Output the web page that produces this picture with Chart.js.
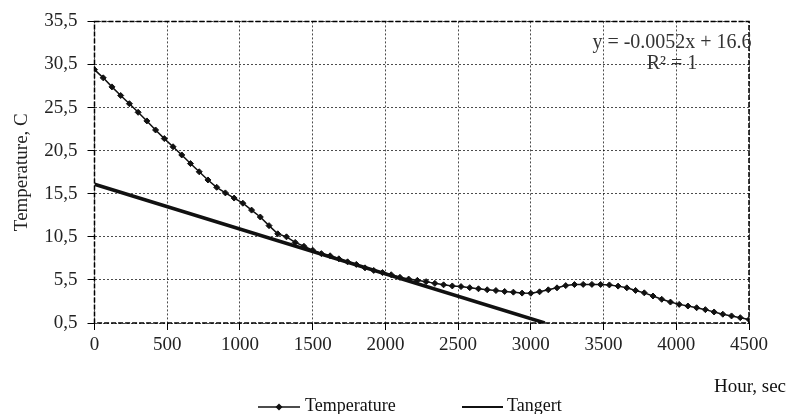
<!DOCTYPE html>
<html>
<head>
<meta charset="utf-8">
<script src="https://cdn.jsdelivr.net/npm/chart.js@4.4.1/dist/chart.umd.min.js"></script>
<style>
  html, body { margin: 0; padding: 0; background: #fff; }
</style>
</head>
<body>
<canvas id="myChart" width="787" height="414"></canvas>
<script>
var timeSec = [
  0, 60, 120, 180, 240, 300, 360, 420, 480, 540,
  600, 660, 720, 780, 840, 900, 960, 1020, 1080, 1140,
  1200, 1260, 1320, 1380, 1440, 1500, 1560, 1620, 1680, 1740,
  1800, 1860, 1920, 1980, 2040, 2100, 2160, 2220, 2280, 2340,
  2400, 2460, 2520, 2580, 2640, 2700, 2760, 2820, 2880, 2940,
  3000, 3060, 3120, 3180, 3240, 3300, 3360, 3420, 3480, 3540,
  3600, 3660, 3720, 3780, 3840, 3900, 3960, 4020, 4080, 4140,
  4200, 4260, 4320, 4380, 4440, 4500,
];

var temperature = [
  29.9, 28.95, 27.9, 26.9, 25.95, 24.95, 23.95, 22.9, 21.9, 20.95,
  20.0, 19.0, 18.05, 17.1, 16.25, 15.6, 15.0, 14.4, 13.6, 12.8,
  11.8, 10.85, 10.5, 9.85, 9.4, 8.95, 8.55, 8.3, 7.95, 7.6,
  7.3, 6.9, 6.6, 6.35, 6.1, 5.8, 5.6, 5.45, 5.3, 5.1,
  4.93, 4.8, 4.73, 4.6, 4.47, 4.36, 4.27, 4.16, 4.08, 3.97,
  3.95, 4.12, 4.35, 4.58, 4.84, 4.96, 4.98, 4.98, 4.97, 4.92,
  4.78, 4.58, 4.28, 4.0, 3.63, 3.25, 2.93, 2.66, 2.47, 2.27,
  2.05, 1.78, 1.52, 1.32, 1.12, 0.9,
];

// tangent line y = -0.0052x + 16.6, drawn down to the bottom of the axis
var tangentX = [0, 3096];
var tangentY = [16.6, 0.5];

var xTickValues = [0, 500, 1000, 1500, 2000, 2500, 3000, 3500, 4000, 4500];
var yTickValues = [0.5, 5.5, 10.5, 15.5, 20.5, 25.5, 30.5, 35.5];

var equationLines = ["y = -0.0052x + 16.6", "R\u00b2 = 1"];
var xAxisTitle = "Hour, sec";
var yAxisTitle = "Temperature, C";

var serif = '"Liberation Serif", "Times New Roman", serif';

function toPoints(xs, ys) {
  return xs.map(function (x, i) {
    return { x: x, y: ys[i] };
  });
}

// dashed box round the plot area
var framePlugin = {
  id: "frame",
  afterDraw: function (chart) {
    var a = chart.chartArea;
    var ctx = chart.ctx;
    ctx.save();
    ctx.strokeStyle = "#000";
    ctx.lineWidth = 1.5;
    ctx.setLineDash([5, 2]);
    ctx.strokeRect(a.left, a.top, a.right - a.left, a.bottom - a.top);
    ctx.restore();
  },
};

// trendline label, x axis title and legend
var textPlugin = {
  id: "texts",
  afterDraw: function (chart) {
    var ctx = chart.ctx;
    ctx.save();
    ctx.textBaseline = "middle";

    ctx.fillStyle = "#333";
    ctx.font = "20px " + serif;
    ctx.textAlign = "center";
    ctx.fillText(equationLines[0], 672, 43);
    ctx.fillText(equationLines[1], 672, 64);

    ctx.fillStyle = "#111";
    ctx.font = "19px " + serif;
    ctx.textAlign = "right";
    ctx.fillText(xAxisTitle, 786, 387);

    // legend
    var ly = 407;
    ctx.strokeStyle = "#111";
    ctx.fillStyle = "#111";
    ctx.lineWidth = 1.5;
    ctx.beginPath();
    ctx.moveTo(258, ly);
    ctx.lineTo(300, ly);
    ctx.stroke();
    ctx.beginPath();
    ctx.moveTo(279, ly - 3.5);
    ctx.lineTo(282.5, ly);
    ctx.lineTo(279, ly + 3.5);
    ctx.lineTo(275.5, ly);
    ctx.closePath();
    ctx.fill();

    ctx.lineWidth = 2;
    ctx.beginPath();
    ctx.moveTo(462, ly);
    ctx.lineTo(503, ly);
    ctx.stroke();

    ctx.font = "18px " + serif;
    ctx.textAlign = "left";
    ctx.fillText(chart.data.datasets[0].label, 305, ly - 1);
    ctx.fillText(chart.data.datasets[1].label, 507, ly - 1);
    ctx.restore();
  },
};

window.onload = function () {
  var ctx = document.getElementById("myChart").getContext("2d");
  var myChart = new Chart(ctx, {
    type: "line",
    data: {
      datasets: [
        {
          label: "Temperature",
          data: toPoints(timeSec, temperature),
          borderColor: "#111",
          backgroundColor: "#111",
          borderWidth: 1.5,
          pointStyle: "rectRot",
          pointRadius: 3,
          pointBorderWidth: 1,
          tension: 0,
        },
        {
          label: "Tangert",
          data: toPoints(tangentX, tangentY),
          borderColor: "#111",
          borderWidth: 3.5,
          pointRadius: 0,
        },
      ],
    },
    options: {
      responsive: false,
      animation: false,
      devicePixelRatio: 1,
      layout: {
        padding: { top: 20.5, right: 38, left: 0, bottom: 0 },
      },
      plugins: {
        legend: { display: false },
        tooltip: { enabled: false },
      },
      scales: {
        x: {
          type: "linear",
          min: 0,
          max: 4500,
          afterBuildTicks: function (axis) {
            axis.ticks = xTickValues.map(function (v) {
              return { value: v };
            });
          },
          afterFit: function (scale) {
            scale.height = 91;
          },
          ticks: {
            autoSkip: false,
            maxRotation: 0,
            padding: 4,
            color: "#222",
            font: { family: serif, size: 19 },
            callback: function (value) {
              return String(value);
            },
          },
          grid: {
            color: "rgba(0,0,0,0.7)",
            lineWidth: 1,
            tickLength: 7,
            tickColor: "#000",
          },
          border: { display: false, dash: [2, 2] },
        },
        y: {
          type: "linear",
          min: 0.5,
          max: 35.5,
          afterBuildTicks: function (axis) {
            axis.ticks = yTickValues.map(function (v) {
              return { value: v };
            });
          },
          afterFit: function (scale) {
            scale.width = 94.5;
          },
          ticks: {
            padding: 10,
            color: "#222",
            font: { family: serif, size: 19 },
            callback: function (value) {
              return Number(value).toFixed(1).replace(".", ",");
            },
          },
          grid: {
            color: "rgba(0,0,0,0.7)",
            lineWidth: 1,
            tickLength: 7,
            tickColor: "#000",
          },
          border: { display: false, dash: [2, 2] },
          title: {
            display: true,
            text: yAxisTitle,
            color: "#222",
            padding: { top: 11, bottom: 0 },
            font: { family: serif, size: 19 },
          },
        },
      },
    },
    plugins: [framePlugin, textPlugin],
  });
};
</script>
</body>
</html>
